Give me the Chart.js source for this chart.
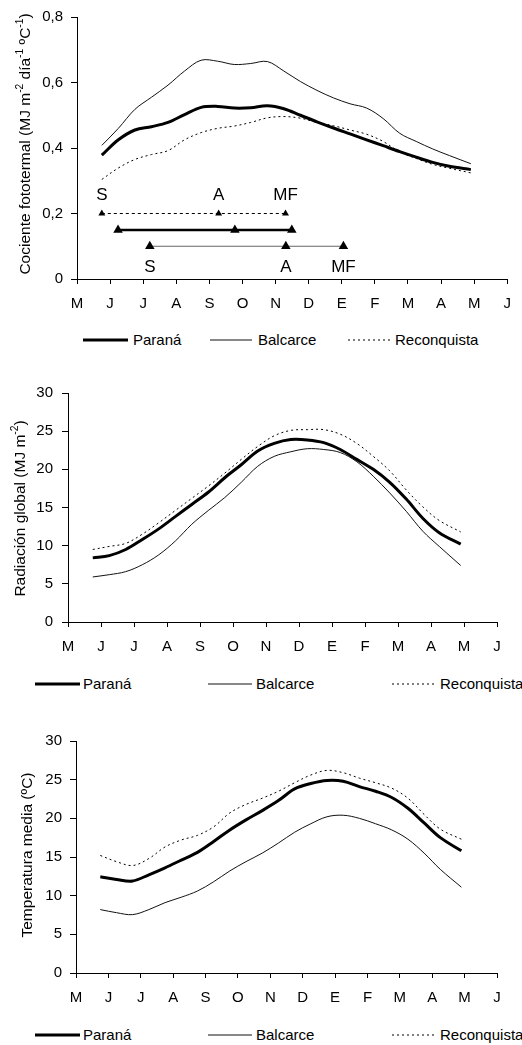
<!DOCTYPE html>
<html><head><meta charset="utf-8">
<script src="https://cdn.jsdelivr.net/npm/chart.js@4.4.1/dist/chart.umd.min.js"></script>
<style>
html,body{margin:0;padding:0;background:#fff;}
body{width:522px;height:1045px;position:relative;overflow:hidden;font-family:"Liberation Sans",Arial,sans-serif;}
canvas{position:absolute;left:0;}
.leg{position:absolute;height:20px;font-size:15px;line-height:20px;color:#000;white-space:nowrap;}
.leg svg{position:absolute;top:0;}
.leg span{position:absolute;top:0;}
</style></head><body>
<canvas id="c1" width="522" height="320" style="top:0px"></canvas>
<canvas id="c2" width="522" height="290" style="top:370px"></canvas>
<canvas id="c3" width="522" height="290" style="top:720px"></canvas>
<div id="legends"></div>
<script>
// ---------- DATA ----------
const months = ['M','J','J','A','S','O','N','D','E','F','M','A','M','J'];
const seriesNames = ['Paraná','Balcarce','Reconquista'];
const xPos = [0.75,1.25,1.75,2.25,2.75,3.25,3.75,4.25,4.75,5.25,5.75,6.25,6.75,7.25,7.75,8.25,8.75,9.25,9.75,10.25,10.75,11.25,11.9];

// Cociente fototermal
const ctParana      = [0.378,0.425,0.455,0.465,0.478,0.502,0.524,0.527,0.522,0.523,0.529,0.520,0.500,0.480,0.461,0.443,0.425,0.407,0.389,0.372,0.356,0.344,0.334];
const ctBalcarce    = [0.408,0.460,0.518,0.555,0.592,0.635,0.668,0.665,0.655,0.658,0.664,0.635,0.603,0.576,0.553,0.535,0.522,0.490,0.445,0.420,0.397,0.377,0.352];
const ctReconquista = [0.304,0.339,0.365,0.380,0.392,0.425,0.447,0.460,0.467,0.478,0.492,0.496,0.491,0.478,0.468,0.455,0.442,0.420,0.388,0.368,0.350,0.338,0.324];

// Fases (S, A, MF)
const phaseStages = ['S','A','MF'];
const phaseReconquista = [0.75,4.28,6.30];
const phaseParana      = [1.24,4.77,6.49];
const phaseBalcarce    = [2.20,6.31,8.05];
const phaseLevels = {Reconquista:0.2, Parana:0.15, Balcarce:0.1};
const stageLabelLevelAbove = 0.24;
const stageLabelLevelBelow = 0.02;

// Radiación global
const rgParana      = [8.4,8.7,9.5,10.8,12.2,13.8,15.4,17.0,18.9,20.6,22.4,23.4,23.9,23.85,23.5,22.6,21.3,20.0,18.3,16.1,13.6,11.7,10.2];
const rgBalcarce    = [5.9,6.2,6.6,7.5,8.8,10.6,12.8,14.6,16.3,18.3,20.4,21.7,22.3,22.7,22.6,22.2,21.0,19.1,16.9,14.5,11.9,9.9,7.4];
const rgReconquista = [9.5,9.9,10.3,11.5,13.0,14.6,16.2,17.8,19.5,21.3,23.0,24.4,25.1,25.2,25.2,24.6,23.4,21.7,19.8,17.3,15.1,13.3,11.8];

// Temperatura media
const tmParana      = [12.45,12.1,11.9,12.7,13.6,14.6,15.6,17.0,18.5,19.8,21.0,22.3,23.8,24.5,24.9,24.8,24.1,23.5,22.7,21.3,19.4,17.5,15.8];
const tmBalcarce    = [8.2,7.8,7.55,8.2,9.1,9.8,10.6,11.8,13.2,14.4,15.5,16.8,18.2,19.3,20.2,20.4,20.0,19.3,18.5,17.3,15.5,13.4,11.1];
const tmReconquista = [15.2,14.4,13.9,14.8,16.3,17.2,17.8,18.9,20.7,21.8,22.6,23.5,24.6,25.6,26.2,25.9,25.2,24.6,23.9,22.6,20.5,18.6,17.3];

// ---------- RENDER ----------
Chart.defaults.font.family = '"Liberation Sans", Arial, sans-serif';
Chart.defaults.color = '#000';
Chart.defaults.animation = false;

const styles = {
  'Paraná':      {borderColor:'#000', borderWidth:3, borderDash:[]},
  'Balcarce':    {borderColor:'#111', borderWidth:1, borderDash:[]},
  'Reconquista': {borderColor:'#000', borderWidth:1, borderDash:[2,3]}
};
function pts(vals){ return vals.map((v,i)=>({x:xPos[i], y:v})); }
function mainSets(p,b,r){
  return [[p,'Paraná'],[b,'Balcarce'],[r,'Reconquista']].map(([vals,name])=>Object.assign({
    label:name, data:pts(vals), pointRadius:0, tension:0.35, fill:false, order:2
  }, styles[name]));
}

const yTitlePlugin = {
  id:'ytitle',
  afterDraw(chart, args, opts){
    if(!opts || !opts.parts) return;
    const ctx = chart.ctx, a = chart.chartArea;
    const fs = opts.size || 15.5, ss = fs*0.66;
    const cy = (a.top + a.bottom)/2 + (opts.dy||0);
    ctx.save();
    ctx.translate(opts.cx, cy);
    ctx.rotate(-Math.PI/2);
    ctx.fillStyle = '#000';
    ctx.textBaseline = 'middle';
    ctx.textAlign = 'left';
    let total = 0;
    opts.parts.forEach(p=>{ ctx.font = (p.sup?ss:fs)+'px "Liberation Sans", Arial, sans-serif'; total += ctx.measureText(p.t).width; });
    let x = -total/2;
    opts.parts.forEach(p=>{
      ctx.font = (p.sup?ss:fs)+'px "Liberation Sans", Arial, sans-serif';
      ctx.fillText(p.t, x, p.sup ? -fs*0.38 : 0);
      x += ctx.measureText(p.t).width;
    });
    ctx.restore();
  }
};

const stageLabelPlugin = {
  id:'stagelabels',
  afterDatasetsDraw(chart, args, opts){
    if(!opts || !opts.show) return;
    const ctx = chart.ctx, xs = chart.scales.x, ys = chart.scales.y;
    ctx.save();
    ctx.fillStyle = '#000';
    ctx.font = '17px "Liberation Sans", Arial, sans-serif';
    ctx.textAlign = 'center';
    ctx.textBaseline = 'alphabetic';
    phaseStages.forEach((s,i)=>{
      ctx.fillText(s, xs.getPixelForValue(phaseReconquista[i]), ys.getPixelForValue(stageLabelLevelAbove));
      ctx.fillText(s, xs.getPixelForValue(phaseBalcarce[i]), ys.getPixelForValue(stageLabelLevelBelow));
    });
    ctx.restore();
  }
};

function scales(yMax, yStep, yWidth, xHeight, yPad, fmt){
  return {
    x:{
      type:'linear', min:0, max:months.length-1,
      afterBuildTicks(s){ s.ticks = months.map((m,i)=>({value:i})); },
      afterFit(s){ s.height = xHeight; },
      ticks:{ autoSkip:false, maxRotation:0, padding:11, font:{size:15}, color:'#000',
              callback:(v)=>months[v] },
      grid:{ drawOnChartArea:false, drawTicks:true, tickLength:5, color:'#000' },
      border:{ display:true, color:'#000', width:1 }
    },
    y:{
      min:0, max:yMax,
      afterBuildTicks(s){ const t=[]; for(let v=0; v<=yMax+1e-9; v+=yStep) t.push({value:+v.toFixed(3)}); s.ticks=t; },
      afterFit(s){ s.width = yWidth; },
      ticks:{ padding:yPad, font:{size:15}, color:'#000', callback:fmt },
      grid:{ drawOnChartArea:false, drawTicks:true, tickLength:6, color:'#000' },
      border:{ display:true, color:'#000', width:1 }
    }
  };
}

// Chart 1
const phaseSets = [
  {label:'fase Reconquista', data:phaseReconquista.map(x=>({x, y:phaseLevels.Reconquista})), borderColor:'#000', borderWidth:1, borderDash:[3,3],
   pointStyle:'triangle', pointRadius:4, pointBackgroundColor:'#000', pointBorderColor:'#000', pointBorderWidth:0, tension:0, order:1},
  {label:'fase Paraná', data:phaseParana.map(x=>({x, y:phaseLevels.Parana})), borderColor:'#000', borderWidth:2.5,
   pointStyle:'triangle', pointRadius:5.5, pointBackgroundColor:'#000', pointBorderColor:'#000', pointBorderWidth:0, tension:0, order:1},
  {label:'fase Balcarce', data:phaseBalcarce.map(x=>({x, y:phaseLevels.Balcarce})), borderColor:'#666', borderWidth:1,
   pointStyle:'triangle', pointRadius:5.5, pointBackgroundColor:'#000', pointBorderColor:'#000', pointBorderWidth:0, tension:0, order:1}
];
new Chart(document.getElementById('c1'), {
  type:'line',
  data:{ datasets: mainSets(ctParana, ctBalcarce, ctReconquista).concat(phaseSets) },
  options:{
    responsive:false, animation:false,
    layout:{ padding:{top:14, right:4, left:0, bottom:0} },
    plugins:{ legend:{display:false}, tooltip:{enabled:false},
      ytitle:{ cx:26, dy:-4, size:15.5, parts:[{t:'Cociente fototermal (MJ m'},{t:'-2',sup:true},{t:' día'},{t:'-1',sup:true},{t:' ºC'},{t:'-1',sup:true},{t:')'}] },
      stagelabels:{ show:true } },
    scales: scales(0.8, 0.2, 77, 41, 8, v => v===0 ? '0' : v.toFixed(1).replace('.',','))
  },
  plugins:[yTitlePlugin, stageLabelPlugin]
});

// Chart 2
new Chart(document.getElementById('c2'), {
  type:'line',
  data:{ datasets: mainSets(rgParana, rgBalcarce, rgReconquista) },
  options:{
    responsive:false, animation:false,
    layout:{ padding:{top:23, right:25, left:0, bottom:0} },
    plugins:{ legend:{display:false}, tooltip:{enabled:false},
      ytitle:{ cx:21, dy:1, size:15.5, parts:[{t:'Radiación global (MJ m'},{t:'-2',sup:true},{t:')'}] } },
    scales: scales(30, 5, 68, 38, 9, v => String(v))
  },
  plugins:[yTitlePlugin]
});

// Chart 3
new Chart(document.getElementById('c3'), {
  type:'line',
  data:{ datasets: mainSets(tmParana, tmBalcarce, tmReconquista) },
  options:{
    responsive:false, animation:false,
    layout:{ padding:{top:21, right:25, left:0, bottom:0} },
    plugins:{ legend:{display:false}, tooltip:{enabled:false},
      ytitle:{ cx:28, dy:-2, size:15.5, parts:[{t:'Temperatura media (ºC)'}] } },
    scales: scales(30, 5, 76, 37, 8, v => String(v))
  },
  plugins:[yTitlePlugin]
});

// Legends (HTML, real text)
const legendLayouts = [
  {top:329.5, items:[[83,45,133],[210,42,258],[348,42,395]]},
  {top:674,   items:[[35,45,83],[208,44,256],[392,43,440]]},
  {top:1025,  items:[[35,45,83],[208,44,256],[392,43,440]]}
];
const legRoot = document.getElementById('legends');
legendLayouts.forEach(L=>{
  const d = document.createElement('div');
  d.className='leg'; d.style.left='0px'; d.style.top=L.top+'px'; d.style.width='522px';
  L.items.forEach((it,i)=>{
    const st = styles[seriesNames[i]];
    const svgNS='http://www.w3.org/2000/svg';
    const svg=document.createElementNS(svgNS,'svg');
    svg.setAttribute('width', it[1]); svg.setAttribute('height', 20);
    svg.style.left = it[0]+'px';
    const ln=document.createElementNS(svgNS,'line');
    ln.setAttribute('x1',0); ln.setAttribute('x2',it[1]); ln.setAttribute('y1',10); ln.setAttribute('y2',10);
    ln.setAttribute('stroke', st.borderColor); ln.setAttribute('stroke-width', st.borderWidth);
    if(st.borderDash.length) ln.setAttribute('stroke-dasharray', st.borderDash.join(' '));
    svg.appendChild(ln); d.appendChild(svg);
    const sp=document.createElement('span'); sp.textContent=seriesNames[i]; sp.style.left=it[2]+'px';
    d.appendChild(sp);
  });
  legRoot.appendChild(d);
});
</script>
</body></html>
